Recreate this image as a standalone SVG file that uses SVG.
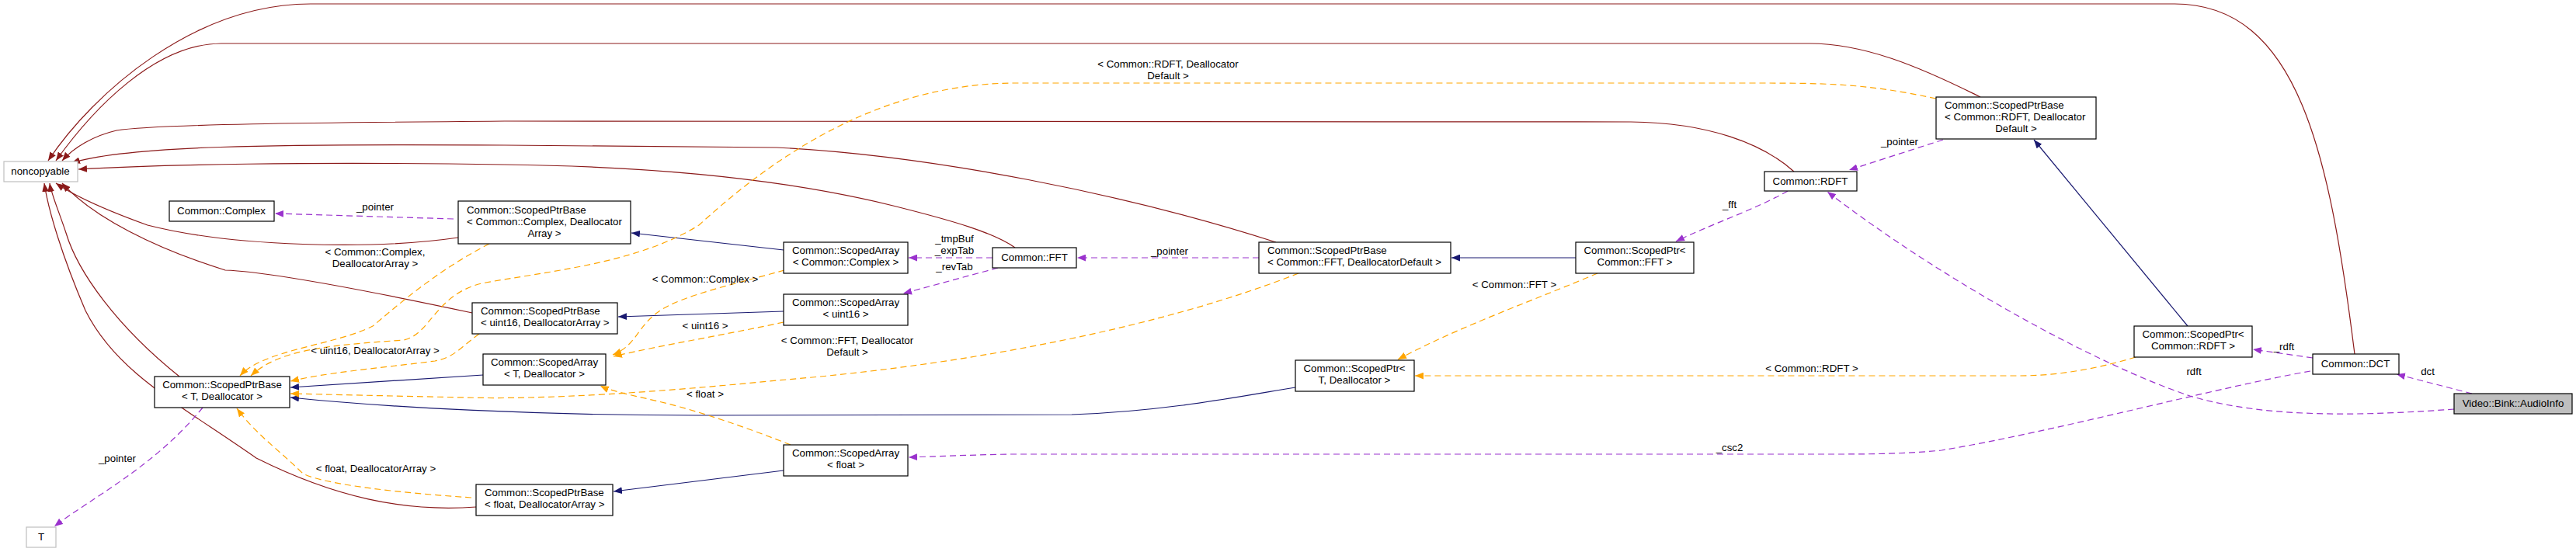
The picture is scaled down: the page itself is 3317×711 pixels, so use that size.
<svg xmlns="http://www.w3.org/2000/svg" width="3317" height="711" viewBox="0 0 3317 711">
<style>
text{font-family:"Liberation Sans",Arial,sans-serif;font-size:13.3px;fill:#000}
.n rect{fill:#fff;stroke:#000;stroke-width:1.2}
.g rect{fill:#fff;stroke:#bfbfbf;stroke-width:1.2}
.m{text-anchor:middle}
.e path{fill:none;stroke-width:1.2}
.r{stroke:#8b1a1a;marker-end:url(#ar)}
.b{stroke:#191970;marker-end:url(#ab)}
.o{stroke:#ffa500;stroke-dasharray:8,5;marker-end:url(#ao)}
.p{stroke:#9a32cd;stroke-dasharray:8,5;marker-end:url(#ap)}
</style>
<defs>
<marker id="ar" viewBox="0 0 10 8" refX="10" refY="4" markerWidth="11" markerHeight="9" markerUnits="userSpaceOnUse" orient="auto"><path d="M0,0L10,4L0,8z" fill="#8b1a1a"/></marker>
<marker id="ab" viewBox="0 0 10 8" refX="10" refY="4" markerWidth="11" markerHeight="9" markerUnits="userSpaceOnUse" orient="auto"><path d="M0,0L10,4L0,8z" fill="#191970"/></marker>
<marker id="ao" viewBox="0 0 10 8" refX="10" refY="4" markerWidth="11" markerHeight="9" markerUnits="userSpaceOnUse" orient="auto"><path d="M0,0L10,4L0,8z" fill="#ffa500"/></marker>
<marker id="ap" viewBox="0 0 10 8" refX="10" refY="4" markerWidth="11" markerHeight="9" markerUnits="userSpaceOnUse" orient="auto"><path d="M0,0L10,4L0,8z" fill="#9a32cd"/></marker>
</defs>
<rect width="3317" height="711" fill="#fff"/>
<g id="connectors" class="e">
<path class="r" d="M3032,456 C3000,200 2960,5 2800,5 L400,5 C250,5 120,120 62,207"/>
<path class="r" d="M2550,125 C2470,85 2400,56 2330,56 L285,56 C200,56 120,140 72,207"/>
<path class="r" d="M2310,221 C2270,185 2200,158 2100,157 L650,156 C400,158 200,160 150,168 C120,175 95,190 80,207"/>
<path class="r" d="M1643,312 C1450,250 1200,200 1000,190 L650,187 C350,185 160,188 92,210"/>
<path class="r" d="M1307,319 C1280,300 1230,285 1150,265 C1050,240 900,215 650,212 C400,208 200,212 101,218"/>
<path class="r" d="M590,306 C480,322 300,318 190,290 C140,272 100,255 72,236"/>
<path class="r" d="M608,403 C500,380 350,350 290,348 C200,320 120,280 80,236"/>
<path class="r" d="M231,485 C150,420 100,350 85,300 C75,270 66,250 64,236"/>
<path class="r" d="M613,653 C520,660 430,640 330,590 C230,520 150,480 110,400 C80,330 62,270 57,236"/>
<path class="b" d="M2817,420 L2619,180"/>
<path class="b" d="M2029,332 L1869,332"/>
<path class="b" d="M1009,322 L813,300"/>
<path class="b" d="M1009,401 L796,408"/>
<path class="b" d="M622,483 L374,499"/>
<path class="b" d="M1668,499 C1600,510 1500,530 1380,534 L900,535 C700,535 500,525 374,512"/>
<path class="b" d="M1009,606 L790,633"/>
<path class="o" d="M2493,127 C2400,107 2350,107 2250,107 L1300,107 C1150,110 1020,180 900,290 C820,340 700,350 620,365 C560,380 555,430 520,438 C420,445 360,450 323,484"/>
<path class="o" d="M630,314 C560,350 510,395 480,420 C430,445 340,450 309,484"/>
<path class="o" d="M617,430 C590,450 585,460 560,465 C480,475 420,480 374,491"/>
<path class="o" d="M1672,352 C1500,420 1250,470 1000,490 C850,505 700,515 600,512 C500,510 420,508 374,507"/>
<path class="o" d="M607,641 C520,635 420,625 390,610 C360,580 330,560 305,526"/>
<path class="o" d="M1010,348 C950,365 880,380 850,400 C820,420 820,445 789,457"/>
<path class="o" d="M1009,415 C940,430 850,445 790,459"/>
<path class="o" d="M1018,573 C960,550 900,530 860,520 C820,510 790,505 773,497"/>
<path class="o" d="M2057,352 C1980,385 1880,420 1800,463"/>
<path class="o" d="M2750,460 C2700,475 2650,484 2600,484 L1822,484"/>
<path class="p" d="M584,282 L354,275"/>
<path class="p" d="M261,525 C200,600 120,640 70,678"/>
<path class="p" d="M1278,332 L1170,332"/>
<path class="p" d="M1285,345 L1163,378"/>
<path class="p" d="M1621,332 L1387,332"/>
<path class="p" d="M2302,246 C2260,270 2200,290 2158,311"/>
<path class="p" d="M2502,180 L2381,219"/>
<path class="p" d="M3160,527 C3050,535 2920,540 2820,510 C2700,470 2500,360 2353,247"/>
<path class="p" d="M2978,461 L2901,450"/>
<path class="p" d="M3183,507 L3086,482"/>
<path class="p" d="M2975,478 C2850,500 2650,555 2500,580 C2450,585 2400,585 2350,585 L1300,585 C1250,586 1200,588 1170,589"/>
</g>
<g id="labels">
<text class="m" x="483" y="271">_pointer</text>
<text class="m" x="483" y="329">&lt; Common::Complex,</text>
<text class="m" x="483" y="344">DeallocatorArray &gt;</text>
<text class="m" x="483" y="456">&lt; uint16, DeallocatorArray &gt;</text>
<text class="m" x="484" y="608">&lt; float, DeallocatorArray &gt;</text>
<text class="m" x="151" y="595">_pointer</text>
<text class="m" x="908" y="364">&lt; Common::Complex &gt;</text>
<text class="m" x="908" y="424">&lt; uint16 &gt;</text>
<text class="m" x="908" y="512">&lt; float &gt;</text>
<text class="m" x="1229" y="312">_tmpBuf</text>
<text class="m" x="1229" y="327">_expTab</text>
<text class="m" x="1229" y="348">_revTab</text>
<text class="m" x="1506" y="328">_pointer</text>
<text class="m" x="1091" y="443">&lt; Common::FFT, Deallocator</text>
<text class="m" x="1091" y="458">Default &gt;</text>
<text class="m" x="1950" y="371">&lt; Common::FFT &gt;</text>
<text class="m" x="1504" y="87">&lt; Common::RDFT, Deallocator</text>
<text class="m" x="1504" y="102">Default &gt;</text>
<text class="m" x="2446" y="187">_pointer</text>
<text class="m" x="2227" y="268">_fft</text>
<text class="m" x="2333" y="479">&lt; Common::RDFT &gt;</text>
<text class="m" x="2227" y="581">_csc2</text>
<text class="m" x="2941" y="451">_rdft</text>
<text class="m" x="2825" y="483">rdft</text>
<text class="m" x="3126" y="483">dct</text>
</g>
<g id="noncopyable" class="g"><rect x="5" y="208" width="95" height="26"/><text class="m" x="52" y="225">noncopyable</text></g>
<g id="complex" class="n"><rect x="218" y="259" width="135" height="26"/><text class="m" x="285" y="276">Common::Complex</text></g>
<g id="spb_complex" class="n"><rect x="590" y="259" width="222" height="55"/><text x="601" y="275">Common::ScopedPtrBase</text><text x="601" y="290">&lt; Common::Complex, Deallocator</text><text class="m" x="701" y="305">Array &gt;</text></g>
<g id="spb_uint16" class="n"><rect x="608" y="390" width="187" height="40"/><text x="619" y="405">Common::ScopedPtrBase</text><text x="619" y="420">&lt; uint16, DeallocatorArray &gt;</text></g>
<g id="spb_T" class="n"><rect x="199" y="485" width="174" height="40"/><text class="m" x="286" y="500">Common::ScopedPtrBase</text><text class="m" x="286" y="515">&lt; T, Deallocator &gt;</text></g>
<g id="sa_T" class="n"><rect x="622" y="456" width="158" height="40"/><text class="m" x="701" y="471">Common::ScopedArray</text><text class="m" x="701" y="486">&lt; T, Deallocator &gt;</text></g>
<g id="spb_float" class="n"><rect x="613" y="624" width="176" height="40"/><text x="624" y="639">Common::ScopedPtrBase</text><text x="624" y="654">&lt; float, DeallocatorArray &gt;</text></g>
<g id="T" class="g"><rect x="34" y="679" width="38" height="26"/><text class="m" x="53" y="696">T</text></g>
<g id="sa_complex" class="n"><rect x="1009" y="312" width="160" height="40"/><text class="m" x="1089" y="327">Common::ScopedArray</text><text class="m" x="1089" y="342">&lt; Common::Complex &gt;</text></g>
<g id="sa_uint16" class="n"><rect x="1009" y="379" width="160" height="40"/><text class="m" x="1089" y="394">Common::ScopedArray</text><text class="m" x="1089" y="409">&lt; uint16 &gt;</text></g>
<g id="sa_float" class="n"><rect x="1009" y="573" width="160" height="40"/><text class="m" x="1089" y="588">Common::ScopedArray</text><text class="m" x="1089" y="603">&lt; float &gt;</text></g>
<g id="fft" class="n"><rect x="1278" y="319" width="108" height="26"/><text class="m" x="1332" y="336">Common::FFT</text></g>
<g id="spb_fft" class="n"><rect x="1621" y="312" width="247" height="40"/><text x="1632" y="327">Common::ScopedPtrBase</text><text x="1632" y="342">&lt; Common::FFT, DeallocatorDefault &gt;</text></g>
<g id="sp_T" class="n"><rect x="1668" y="464" width="153" height="40"/><text class="m" x="1744" y="479">Common::ScopedPtr&lt;</text><text class="m" x="1744" y="494">T, Deallocator &gt;</text></g>
<g id="sp_fft" class="n"><rect x="2029" y="312" width="152" height="40"/><text class="m" x="2105" y="327">Common::ScopedPtr&lt;</text><text class="m" x="2105" y="342">Common::FFT &gt;</text></g>
<g id="rdft" class="n"><rect x="2272" y="221" width="119" height="25"/><text class="m" x="2331" y="238">Common::RDFT</text></g>
<g id="spb_rdft" class="n"><rect x="2493" y="125" width="206" height="54"/><text x="2504" y="140">Common::ScopedPtrBase</text><text x="2504" y="155">&lt; Common::RDFT, Deallocator</text><text class="m" x="2596" y="170">Default &gt;</text></g>
<g id="sp_rdft" class="n"><rect x="2748" y="420" width="152" height="40"/><text class="m" x="2824" y="435">Common::ScopedPtr&lt;</text><text class="m" x="2824" y="450">Common::RDFT &gt;</text></g>
<g id="dct" class="n"><rect x="2978" y="456" width="111" height="26"/><text class="m" x="3033" y="473">Common::DCT</text></g>
<g id="audioinfo" class="n"><rect x="3160" y="507" width="152" height="26" style="fill:#bfbfbf"/><text class="m" x="3236" y="524">Video::Bink::AudioInfo</text></g>
</svg>
